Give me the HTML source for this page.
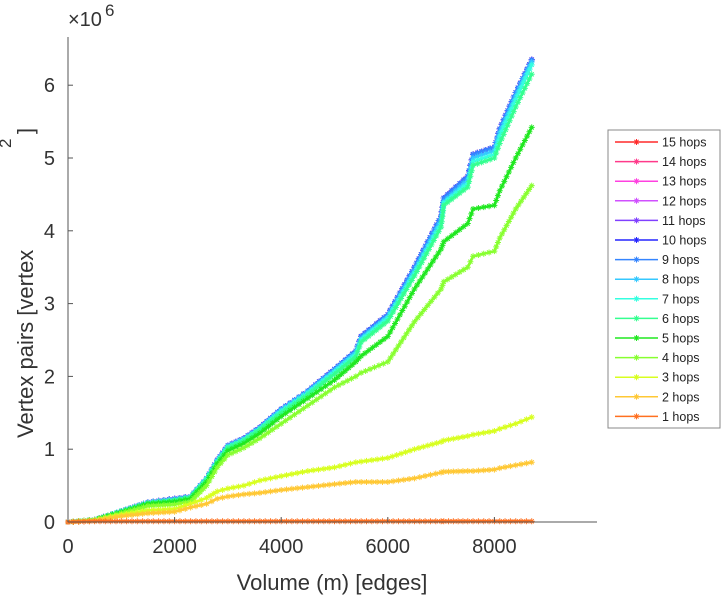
<!DOCTYPE html>
<html><head><meta charset="utf-8"><style>
html,body{margin:0;padding:0;background:#fff;}
svg{display:block;font-family:"Liberation Sans",sans-serif;}
</style></head><body>
<svg id="chart" width="728" height="600">
<g id="plot"></g>
<line x1="68" y1="37" x2="68" y2="522" stroke="#555" stroke-width="1"/>
<line x1="68" y1="522" x2="597" y2="522" stroke="#555" stroke-width="1"/>
<g id="ticks"></g>
<text x="68" y="26" font-size="20" fill="#333">×10<tspan font-size="17" dy="-10" dx="3">6</tspan></text>
<text x="332" y="590" font-size="22" fill="#333" text-anchor="middle">Volume (m) [edges]</text>
<g transform="translate(33,438) rotate(-90)">
<text x="0" y="0" font-size="22" fill="#333">Vertex pairs [vertex</text>
<text x="290" y="-22" font-size="17" fill="#333">2</text>
<text x="304" y="0" font-size="22" fill="#333">]</text>
</g>
<g id="legend">
<rect x="608" y="130" width="112" height="298" fill="#fff" stroke="#888" stroke-width="1"/>
</g>
</svg>
<script>
const xs = [0,500,1000,1500,2000,2300,2600,2800,3000,3300,3600,4000,4500,5000,5400,5500,6000,6500,7000,7050,7500,7600,8000,8100,8400,8700];
const s9 = [0,0.03,0.15,0.27,0.32,0.35,0.6,0.85,1.05,1.15,1.3,1.55,1.8,2.1,2.35,2.55,2.85,3.5,4.2,4.45,4.75,5.05,5.15,5.4,5.9,6.35];
const s8 = [0,0.03,0.15,0.27,0.31,0.35,0.6,0.84,1.04,1.14,1.29,1.54,1.79,2.08,2.33,2.52,2.82,3.45,4.15,4.4,4.7,5.0,5.1,5.35,5.85,6.32];
const s7 = [0,0.03,0.15,0.26,0.3,0.34,0.59,0.83,1.03,1.13,1.28,1.52,1.77,2.06,2.3,2.5,2.8,3.42,4.1,4.38,4.65,4.95,5.05,5.3,5.8,6.28];
const s6 = [0,0.03,0.14,0.26,0.3,0.34,0.58,0.82,1.02,1.12,1.27,1.5,1.75,2.03,2.27,2.47,2.76,3.38,4.05,4.35,4.6,4.9,5.0,5.2,5.7,6.15];
const s5 = [0,0.03,0.14,0.25,0.28,0.32,0.55,0.8,0.98,1.08,1.22,1.45,1.7,1.95,2.2,2.28,2.55,3.2,3.75,3.85,4.1,4.3,4.35,4.55,5.0,5.42];
const s4 = [0,0.03,0.12,0.22,0.24,0.28,0.5,0.75,0.92,1.02,1.15,1.35,1.6,1.85,2.0,2.05,2.2,2.75,3.2,3.3,3.5,3.65,3.72,3.9,4.3,4.62];
const s3 = [0,0.02,0.1,0.16,0.18,0.25,0.33,0.42,0.46,0.5,0.57,0.63,0.7,0.75,0.82,0.83,0.88,1.0,1.1,1.12,1.18,1.2,1.25,1.28,1.35,1.44];
const s2 = [0,0.02,0.08,0.12,0.14,0.2,0.25,0.32,0.35,0.38,0.4,0.44,0.48,0.52,0.55,0.55,0.55,0.6,0.68,0.69,0.7,0.7,0.72,0.74,0.78,0.82];
const s1 = [0,0.01,0.01,0.01,0.01,0.01,0.01,0.01,0.01,0.01,0.01,0.01,0.01,0.01,0.01,0.01,0.01,0.01,0.01,0.01,0.01,0.01,0.01,0.01,0.01,0.01];
const seriesNames = ["15 hops","14 hops","13 hops","12 hops","11 hops","10 hops","9 hops","8 hops","7 hops","6 hops","5 hops","4 hops","3 hops","2 hops","1 hops"];
const seriesData = [s9,s9,s9,s9,s9,s9,s9,s8,s7,s6,s5,s4,s3,s2,s1];
const seriesColors = ["#ff2a2a","#ff3a8a","#ff40e0","#d050ff","#8040ff","#2525ff","#3585ff","#35c8ff","#35ffe0","#35ff90","#20e820","#88ff30","#d8ff20","#ffc835","#ff7020"];
const xTicks = [0,2000,4000,6000,8000];
const yTicks = [0,1,2,3,4,5,6];

const NS="http://www.w3.org/2000/svg";
const X = v => 68 + v*(106.6/2000);
const Y = v => 522 - v*72.8;
const plot=document.getElementById('plot'), ticks=document.getElementById('ticks'), legend=document.getElementById('legend');
function mk(tag,attrs,parent){const e=document.createElementNS(NS,tag);for(const k in attrs)e.setAttribute(k,attrs[k]);parent.appendChild(e);return e;}
function star(g,cx,cy,c,r){
  mk('path',{d:`M${cx-r},${cy}H${cx+r}M${cx},${cy-r}V${cy+r}M${cx-r*0.7},${cy-r*0.7}L${cx+r*0.7},${cy+r*0.7}M${cx-r*0.7},${cy+r*0.7}L${cx+r*0.7},${cy-r*0.7}`,stroke:c,'stroke-width':1,fill:'none'},g);
}
seriesData.forEach((d,i)=>{
  const c=seriesColors[i];
  const g=mk('g',{},plot);
  
  
  const pts=xs.map((x,j)=>X(x).toFixed(1)+','+Y(d[j]).toFixed(1)).join(' ');
  mk('polyline',{points:pts,fill:'none',stroke:c,'stroke-width':2.5},g);
  for(let j=0;j<xs.length-1;j++){
    const x0=X(xs[j]),x1=X(xs[j+1]),y0=Y(d[j]),y1=Y(d[j+1]);
    const len=Math.hypot(x1-x0,y1-y0), n=Math.max(1,Math.round(len/5));
    for(let k=0;k<n;k++){const t=k/n;star(g,x0+(x1-x0)*t,y0+(y1-y0)*t,c,3);}
  }
  star(g,X(xs[xs.length-1]),Y(d[d.length-1]),c,3);
});
xTicks.forEach(t=>{
  const l=mk('line',{x1:X(t),x2:X(t),y1:522,y2:517,stroke:'#555'},ticks);
   
  const tx=mk('text',{x:X(t),y:553,'font-size':20,fill:'#333','text-anchor':'middle'},ticks);
  tx.textContent=t;
   
});
yTicks.forEach(t=>{
  const l=mk('line',{x1:68,x2:73,y1:Y(t),y2:Y(t),stroke:'#555'},ticks);
   
  const tx=mk('text',{x:55,y:Y(t)+7,'font-size':20,fill:'#333','text-anchor':'end'},ticks);
  tx.textContent=t;
   
});
seriesNames.forEach((n,i)=>{
  const y=142+i*19.6;
  const g=mk('g',{},legend);
  
  
  mk('line',{x1:615,x2:658,y1:y,y2:y,stroke:seriesColors[i],'stroke-width':1.5},g);
  star(g,636.5,y,seriesColors[i],3);
  const t=mk('text',{x:662,y:y+4.5,'font-size':12.5,fill:'#222'},g);
  t.textContent=n;
});
</script>
</body></html>
